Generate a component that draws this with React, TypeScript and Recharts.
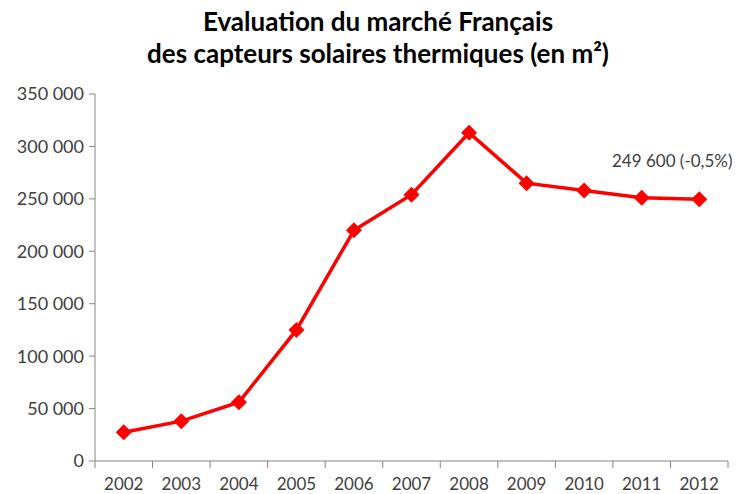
import { LineChart, Line, XAxis, YAxis, LabelList } from 'recharts';

const years = [2002, 2003, 2004, 2005, 2006, 2007, 2008, 2009, 2010, 2011, 2012];
const surfaces = [27500, 38000, 56000, 125000, 220000, 254000, 313000, 265000, 258000, 251000, 249600];
const yTicks = [0, 50000, 100000, 150000, 200000, 250000, 300000, 350000];
const lastLabel = '249 600 (-0,5%)';
const titleLines = ['Evaluation du marché Français', 'des capteurs solaires thermiques (en m²)'];

const data = years.map((year, i) => ({ year, surface: surfaces[i] }));
// ticks at category borders (lines) and at centers (labels), Excel-style
const xTicks = [...years.flatMap(y => [y - 0.5, y]), years[years.length - 1] + 0.5];

const AXIS = '#868686';
const TEXT = '#404040';
const RED = '#ff0000';
const FONT = 'Lato, "Open Sans", sans-serif';

const fmt = (n: number) =>
  n === 0 ? '0' : `${Math.floor(n / 1000)} ${String(n % 1000).padStart(3, '0')}`;

const XTick = ({ x, y, payload }: any) => {
  if (Number.isInteger(payload.value)) {
    return (
      <text x={x} y={y + 29} textAnchor="middle" fontSize={17} fill={TEXT} fontFamily={FONT}>
        {payload.value}
      </text>
    );
  }
  return <line x1={x} x2={x} y1={y} y2={y + 7} stroke={AXIS} />;
};

const Diamond = ({ cx, cy, index }: any) => (
  <polygon
    key={`d-${index}`}
    points={`${cx},${cy - 8} ${cx + 8},${cy} ${cx},${cy + 8} ${cx - 8},${cy}`}
    fill={RED}
  />
);

const LastLabel = ({ x, y, index }: any) =>
  index === years.length - 1 ? (
    <text x={x - 27} y={y - 32} textAnchor="middle" fontSize={17} fill={TEXT} fontFamily={FONT}>
      {lastLabel}
    </text>
  ) : null;

export default function App() {
  return (
    <div style={{ position: 'absolute', left: 0, top: 0, width: 741, height: 494, background: '#fff' }}>
      <div
        style={{
          position: 'absolute',
          left: 0,
          top: 5,
          width: 756,
          textAlign: 'center',
          fontFamily: FONT,
          fontWeight: 700,
          fontSize: 26,
          lineHeight: '32px',
          color: '#000',
        }}
      >
        {titleLines.map(t => (
          <div key={t}>{t}</div>
        ))}
      </div>
      <LineChart width={741} height={494} data={data} margin={{ top: 94, right: 13, bottom: 0, left: 5 }}>
        <XAxis
          dataKey="year"
          type="number"
          domain={[2001.5, 2012.5]}
          ticks={xTicks}
          interval={0}
          tickSize={0}
          tickMargin={0}
          tickLine={false}
          tick={<XTick />}
          axisLine={{ stroke: AXIS }}
          height={33}
        />
        <YAxis
          type="number"
          domain={[0, 350000]}
          ticks={yTicks}
          interval={0}
          width={90}
          tickSize={6}
          tickMargin={5}
          tickFormatter={fmt}
          tick={{ fontSize: 18, fill: TEXT, fontFamily: FONT }}
          tickLine={{ stroke: AXIS }}
          axisLine={{ stroke: AXIS }}
        />
        <Line
          dataKey="surface"
          stroke={RED}
          strokeWidth={3.5}
          dot={<Diamond />}
          activeDot={false}
          isAnimationActive={false}
        >
          <LabelList dataKey="surface" content={<LastLabel />} />
        </Line>
      </LineChart>
    </div>
  );
}
